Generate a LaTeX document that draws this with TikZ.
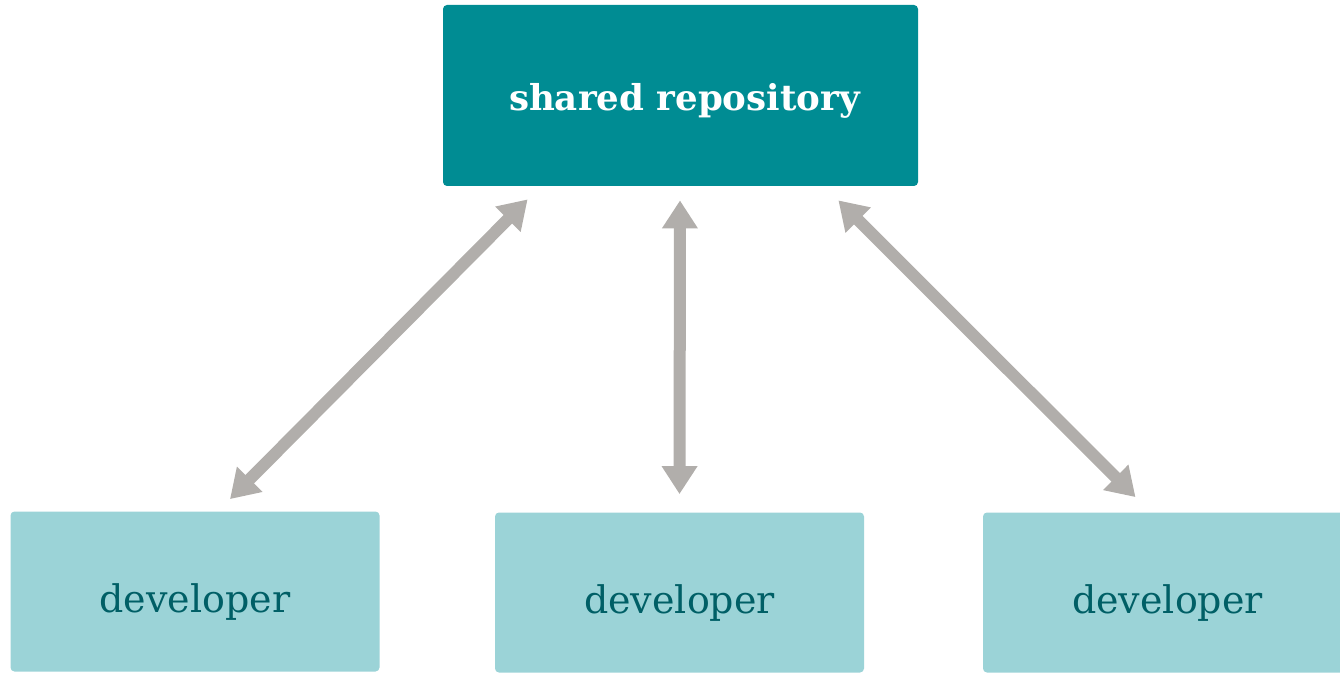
\documentclass[tikz,border=0pt]{standalone}
\usepackage{fontspec}
\setmainfont{DejaVu Serif}
\usetikzlibrary{arrows.meta}

\definecolor{repoteal}{HTML}{008C93}
\definecolor{devblue}{HTML}{9BD3D7}
\definecolor{devtext}{HTML}{005F66}
\definecolor{arrowgray}{HTML}{B1AEAB}

\begin{document}
\begin{tikzpicture}[x=0.5pt,y=-0.5pt,
  repobox/.style={fill=repoteal, rounded corners=2pt, minimum width=237.5pt, minimum height=90.5pt, text height=15.3pt, text depth=0pt, text=white, font=\fontsize{17.8}{19}\selectfont\bfseries},
  devbox/.style={fill=devblue, rounded corners=2pt, minimum width=184.5pt, minimum height=80pt, text height=21pt, text depth=0pt, text=devtext, font=\fontsize{19}{21}\selectfont},
  link/.style={draw=arrowgray, line width=6pt, {Triangle[width=17pt,length=14pt]}-{Triangle[width=17pt,length=14pt]}}]

\clip (0,0) rectangle (1340,674);

\node[repobox] (repo) at (680.5,95.5) {\hspace*{4pt}shared repository};

\node[devbox] (dev1) at (195,591.5) {developer};
\node[devbox] (dev2) at (679.5,592.5) {developer};
\node[devbox] (dev3) at (1167.5,592.5) {developer};

\draw[link] ([shift={(35,-12)}]dev1.north) -- ([shift={(85,13)}]repo.south west);
\draw[link] ([shift={(0,-18)}]dev2.north) -- ([shift={(-0.5,14)}]repo.south);
\draw[link] ([shift={(-32,-15)}]dev3.north) -- ([shift={(-80,14)}]repo.south east);

\end{tikzpicture}
\end{document}
